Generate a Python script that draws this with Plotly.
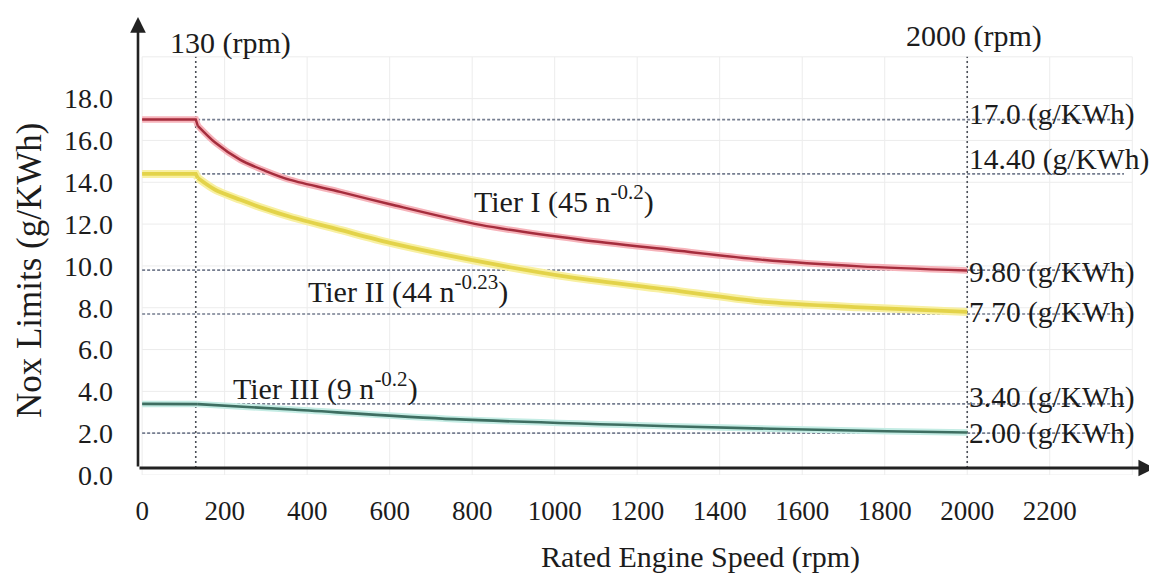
import plotly.graph_objects as go

# ---------------- data ----------------
tier1_rpm = [0, 130, 135, 177, 238, 298, 359, 480, 601, 820, 1060, 1280, 1500, 1740, 2000]
tier1_nox = [17.0, 17.0, 16.7, 15.9, 15.07, 14.55, 14.11, 13.54, 12.95, 11.96, 11.26, 10.77, 10.3, 9.98, 9.78]

tier2_rpm = [0, 130, 135, 177, 238, 298, 359, 480, 601, 820, 1040, 1280, 1500, 1740, 2000]
tier2_nox = [14.4, 14.4, 14.2, 13.64, 13.16, 12.73, 12.35, 11.72, 11.1, 10.2, 9.45, 8.85, 8.3, 8.02, 7.8]

tier3_rpm = [0, 130, 135, 363, 757, 1280, 1806, 2000]
tier3_nox = [3.4, 3.4, 3.39, 3.13, 2.67, 2.33, 2.09, 2.03]

ref_levels = [17.0, 14.4, 9.8, 7.7, 3.4, 2.0]
ref_labels = ["17.0 (g/KWh)", "14.40 (g/KWh)", "9.80 (g/KWh)", "7.70 (g/KWh)", "3.40 (g/KWh)", "2.00 (g/KWh)"]
rpm_marks = [130, 2000]
rpm_labels = ["130 (rpm)", "2000 (rpm)"]

x_ticks = [0, 200, 400, 600, 800, 1000, 1200, 1400, 1600, 1800, 2000, 2200]
y_ticks = [0, 2, 4, 6, 8, 10, 12, 14, 16, 18]
grid_x = [0, 200, 400, 600, 800, 1000, 1200, 1400, 1600, 1800, 2000, 2200, 2400]
grid_y = [0, 2, 4, 6, 8, 10, 12, 14, 16, 18, 20]

curve_labels = ["Tier I (45 n<sup>-0.2</sup>)", "Tier II (44 n<sup>-0.23</sup>)", "Tier III (9 n<sup>-0.2</sup>)"]

# ---------------- styling ----------------
FONT = "Liberation Serif, Times New Roman, serif"
TXT = "#1c1c1c"
X0, X1 = -10, 2460
Y0, Y1 = 0, 22

fig = go.Figure()

shapes = []
for gx in grid_x:
    shapes.append(dict(type="line", xref="x", yref="y", x0=gx, x1=gx, y0=0, y1=20,
                       line=dict(color="#ececec", width=1), layer="below"))
for gy in grid_y:
    shapes.append(dict(type="line", xref="x", yref="y", x0=0, x1=2400, y0=gy, y1=gy,
                       line=dict(color="#ececec", width=1), layer="below"))
for lv in ref_levels:
    shapes.append(dict(type="line", xref="x", yref="y", x0=0, x1=2380, y0=lv, y1=lv,
                       line=dict(color="#767e90", width=1.7, dash="3px,2px"), layer="below"))
for rm in rpm_marks:
    shapes.append(dict(type="line", xref="x", yref="y", x0=rm, x1=rm, y0=0.33, y1=20,
                       line=dict(color="#4c5058", width=1.6, dash="2px,3px"), layer="below"))

series = [
    (tier1_rpm, tier1_nox, "#f6b3ba", 6.5, "#a52d3d", 2.4),
    (tier2_rpm, tier2_nox, "#f8f0a2", 8, "#e3d34a", 3.8),
    (tier3_rpm, tier3_nox, "#c4ece4", 6.5, "#3e6e61", 2.6),
]
for xs, ys, halo, hw, core, cw in series:
    # flat part + knee (linear), then the decaying part (smoothed)
    for sl, shape in ((slice(0, 3), "linear"), (slice(2, None), "spline")):
        fig.add_trace(go.Scatter(x=xs[sl], y=ys[sl], mode="lines",
                                 line=dict(color=halo, width=hw, shape=shape, smoothing=0.8),
                                 hoverinfo="skip", showlegend=False))
    for sl, shape in ((slice(0, 3), "linear"), (slice(2, None), "spline")):
        fig.add_trace(go.Scatter(x=xs[sl], y=ys[sl], mode="lines",
                                 line=dict(color=core, width=cw, shape=shape, smoothing=0.8),
                                 showlegend=False))

ann = []
# axes with arrows
ann.append(dict(x=X0, y=21.9, ax=X0, ay=0.33, xref="x", yref="y", axref="x", ayref="y",
                text="", showarrow=True, arrowhead=2, arrowsize=1.2, arrowwidth=2.6, arrowcolor="#222"))
ann.append(dict(x=2455, y=0.33, ax=X0, ay=0.33, xref="x", yref="y", axref="x", ayref="y",
                text="", showarrow=True, arrowhead=2, arrowsize=1.1, arrowwidth=3, arrowcolor="#222"))

# rpm labels
ann.append(dict(x=213, y=20.65, xref="x", yref="y", text=rpm_labels[0], showarrow=False,
                font=dict(family=FONT, size=30, color=TXT)))
ann.append(dict(x=2017, y=21.0, xref="x", yref="y", text=rpm_labels[1], showarrow=False,
                font=dict(family=FONT, size=30, color=TXT)))

# right-hand level labels
label_y = [17.25, 15.1, 9.7, 7.75, 3.73, 2.0]
for ly, lt in zip(label_y, ref_labels):
    ann.append(dict(x=2000, y=ly, xref="x", yref="y", text=lt, showarrow=False, xanchor="left",
                    font=dict(family=FONT, size=29.5, color=TXT)))

# curve labels
ann.append(dict(x=1023, y=13.2, xref="x", yref="y", text=curve_labels[0], showarrow=False,
                font=dict(family=FONT, size=30, color=TXT)))
ann.append(dict(x=645, y=8.85, xref="x", yref="y", text=curve_labels[1], showarrow=False,
                font=dict(family=FONT, size=30, color=TXT)))
ann.append(dict(x=444, y=4.21, xref="x", yref="y", text=curve_labels[2], showarrow=False,
                font=dict(family=FONT, size=30, color=TXT)))

# axis titles (paper coordinates)
ann.append(dict(x=0.5525, y=-0.178, xref="paper", yref="paper", xanchor="center", yanchor="middle",
                text="Rated Engine Speed (rpm)", showarrow=False,
                font=dict(family=FONT, size=30, color=TXT)))
ann.append(dict(x=-0.1059, y=0.4457, xref="paper", yref="paper", xanchor="center", yanchor="middle",
                text="Nox Limits (g/KWh)", showarrow=False, textangle=-90,
                font=dict(family=FONT, size=35, color=TXT)))

fig.update_layout(
    width=1149, height=568,
    margin=dict(l=130, r=0, t=7, b=101),
    paper_bgcolor="white", plot_bgcolor="white",
    shapes=shapes, annotations=ann, showlegend=False,
    xaxis=dict(range=[X0, X1], showgrid=False, zeroline=False, showline=False,
               tickvals=x_ticks, ticktext=[str(v) for v in x_ticks], ticks="",
               ticklabelstandoff=17, tickfont=dict(family=FONT, size=27, color=TXT)),
    yaxis=dict(range=[Y0, Y1], showgrid=False, zeroline=False, showline=False,
               tickvals=y_ticks, ticktext=[f"{v:.1f}" for v in y_ticks], ticks="",
               ticklabelstandoff=24, tickfont=dict(family=FONT, size=28, color=TXT)),
)

fig.write_html("out.html")
